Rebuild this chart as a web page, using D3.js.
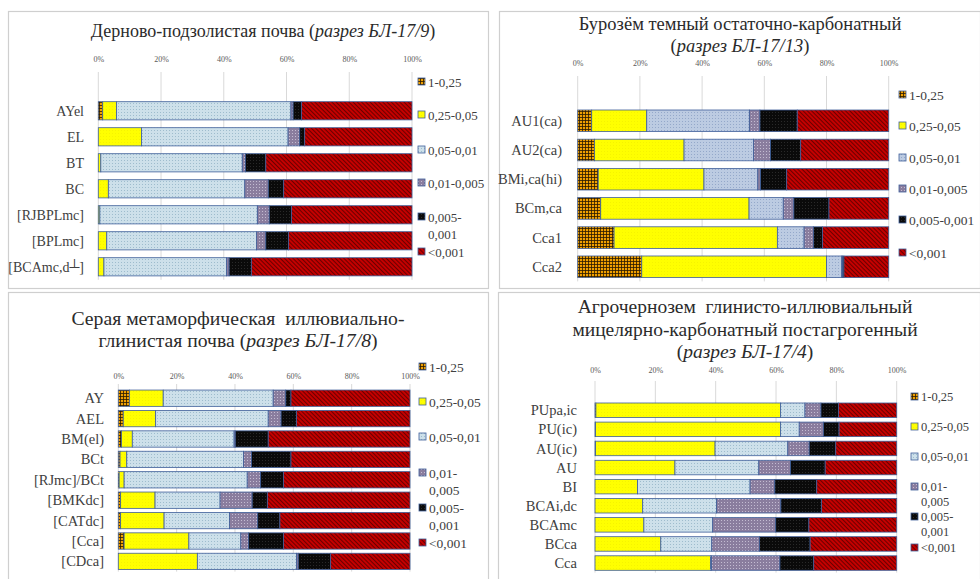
<!DOCTYPE html>
<html><head><meta charset="utf-8">
<script src="https://cdn.jsdelivr.net/npm/d3@7"></script>
<style>body{margin:0;background:#fff}</style>
</head><body><svg id="c" width="980" height="579"></svg>
<script>
// ---------- DATA ----------
const fractions = ["1-0,25","0,25-0,05","0,05-0,01","0,01-0,005","0,005-0,001","<0,001"];
const tickValues = [0,20,40,60,80,100];

const cats1 = ["AYel","EL","BT","BC","[RJBPLmc]","[BPLmc]","[BCAmc,d┴]"];
const vals1 = [
  [1.4, 4.4, 55.6, 0.7, 2.7, 35.2],
  [0.0,13.8, 46.7, 3.7, 1.6, 34.2],
  [0.0, 0.8, 45.1, 1.0, 6.5, 46.6],
  [0.0, 3.2, 43.5, 7.5, 4.9, 40.9],
  [0.0, 0.5, 50.2, 3.8, 7.1, 38.4],
  [0.0, 2.7, 47.7, 3.0, 7.2, 39.4],
  [0.0, 1.8, 39.1, 0.8, 7.1, 51.2]
];
const legend1 = ["1-0,25","0,25-0,05","0,05-0,01","0,01-0,005","0,005-\n0,001","<0,001"];

const cats2 = ["AU1(ca)","AU2(ca)","BMi,ca(hi)","BCm,ca","Cca1","Cca2"];
const vals2 = [
  [ 4.5,17.7,33.0,3.4,12.0,29.4],
  [ 5.4,28.8,22.3,5.5, 9.7,28.3],
  [ 6.6,34.0,17.3,0.9, 8.4,32.8],
  [ 7.4,47.7,11.0,3.4,11.3,19.2],
  [11.7,52.5, 8.6,3.0, 2.9,21.3],
  [20.6,59.4, 4.9,0.3, 0.4,14.4]
];
const legend2 = ["1-0,25","0,25-0,05","0,05-0,01","0,01-0,005","0,005-0,001","<0,001"];

const cats3 = ["AY","AEL","BM(el)","BCt","[RJmc]/BCt","[BMKdc]","[CATdc]","[Cca]","[CDca]"];
const vals3 = [
  [3.8,11.6,37.7, 4.3, 1.8,40.8],
  [1.7,11.1,38.6, 4.4, 5.3,38.9],
  [1.1, 3.7,34.9, 0.4,11.3,48.6],
  [0.6, 2.3,40.0, 2.8,13.5,40.8],
  [0.3, 1.7,42.2, 4.6, 7.8,43.4],
  [0.8,11.8,22.3,11.0, 5.2,48.9],
  [0.8,14.9,22.4, 9.7, 7.6,44.6],
  [2.0,22.2,17.8, 2.7,11.9,43.4],
  [0.0,27.1,34.0, 0.6,11.1,27.2]
];
const legend3 = ["1-0,25","0,25-0,05","0,05-0,01","0,01-\n0,005","0,005-\n0,001","<0,001"];

const cats4 = ["PUpa,ic","PU(ic)","AU(ic)","AU","BI","BCAi,dc","BCAmc","BCca","Cca"];
const vals4 = [
  [0.3,61.2, 8.1, 5.3, 5.8,19.3],
  [0.2,61.3, 6.2, 8.0, 5.2,19.1],
  [0.2,39.6,24.1, 7.1, 8.8,20.2],
  [0.0,26.5,27.8,10.5,11.5,23.7],
  [0.0,14.1,37.3, 8.2,13.9,26.5],
  [0.0,15.8,24.5,21.3,13.5,24.9],
  [0.0,16.2,22.8,20.9,11.0,29.1],
  [0.0,21.8,16.9,15.8,16.8,28.7],
  [0.0,38.3, 0.3,22.7,11.2,27.5]
];
const legend4 = ["1-0,25","0,25-0,05","0,05-0,01","0,01-\n0,005","0,005-\n0,001","<0,001"];

// ---------- LAYOUT ----------
const panels = [
  {frame:[8,11,480,277], cats:cats1, vals:vals1, legend:legend1, blue:"a",
   x0:98.3, x1:412, tickY:59, gridTop:72, y0:97.8, y1:279.8, pad:0.3, labelX:84, labelSize:14,
   title:[[["Дерново-подзолистая почва (",0],["разрез БЛ-17/9",1],[")",0]]], titleX:263, titleY:[37], titleSize:18,
   legX:418, legY:[82,115,150,183,217,252], legSub:17, legSize:13},
  {frame:[499,11,481,277], cats:cats2, vals:vals2, legend:legend2, blue:"b",
   x0:577.7, x1:888.7, tickY:63, gridTop:76, y0:106.2, y1:281.4, pad:0.26, labelX:562, labelSize:14.5,
   title:[[["Бурозём темный остаточно-карбонатный",0]],[["(",0],["разрез БЛ-17/13",1],[")",0]]], titleX:740, titleY:[30,52], titleSize:18.5,
   legX:899, legY:[95,126,158,189,220,253], legSub:17, legSize:13.5},
  {frame:[8,292,480,290], cats:cats3, vals:vals3, legend:legend3, blue:"a",
   x0:118.3, x1:410, tickY:376, gridTop:384, y0:388, y1:571.6, pad:0.2, labelX:104, labelSize:14.5,
   title:[[["Серая метаморфическая  иллювиально-",0]],[["глинистая почва (",0],["разрез БЛ-17/8",1],[")",0]]], titleX:238, titleY:[325,347], titleSize:19.7,
   legX:419, legY:[367,402,437,473,508,543], legSub:17, legSize:13.5},
  {frame:[498,292,482,290], cats:cats4, vals:vals4, legend:legend4, blue:"a",
   x0:595, x1:896.7, tickY:370, gridTop:381, y0:400.7, y1:572.6, pad:0.24, labelX:577, labelSize:14.5,
   title:[[["Агрочернозем  глинисто-иллювиальный",0]],[["мицелярно-карбонатный постагрогенный",0]],[["(",0],["разрез БЛ-17/4",1],[")",0]]], titleX:745, titleY:[313,336,358], titleSize:19.5,
   legX:911, legY:[397,427,457,487,517,548], legSub:15, legSize:12.5}
];

const svg = d3.select("#c");
const FONT = "'Liberation Serif','Times New Roman',serif";

// ---------- PATTERNS ----------
const defs = svg.append("defs");
function pat(id, w, h, bg, draw, tr){
  const p = defs.append("pattern").attr("id",id).attr("patternUnits","userSpaceOnUse")
    .attr("width",w).attr("height",h);
  if(tr) p.attr("patternTransform",tr);
  p.append("rect").attr("width",w).attr("height",h).attr("fill",bg);
  draw(p);
}
pat("f0",3,3,"#f0a000",p=>{
  p.append("rect").attr("x",0).attr("y",0).attr("width",3).attr("height",0.8).attr("fill","#2a1a00");
  p.append("rect").attr("x",0).attr("y",0).attr("width",0.8).attr("height",3).attr("fill","#2a1a00");
});
pat("f1",3,3,"#ffff00",p=>{
  p.append("rect").attr("x",1).attr("y",1).attr("width",0.6).attr("height",0.6).attr("fill","#e8e000");
});
pat("f2a",3,3,"#cde0ea",p=>{
  p.append("rect").attr("x",1).attr("y",1).attr("width",0.9).attr("height",0.9).attr("fill","#93b3c6");
});
pat("f2b",3,3,"#bccbe2",p=>{
  p.append("rect").attr("x",1).attr("y",1).attr("width",0.9).attr("height",0.9).attr("fill","#8aa0c4");
});
pat("f3",3,3,"#8a7d9e",p=>{
  p.append("rect").attr("x",1).attr("y",1).attr("width",1).attr("height",1).attr("fill","#c4bcd2");
});
pat("f4",3,3,"#0a0a0a",p=>{
  p.append("rect").attr("x",1).attr("y",1).attr("width",0.8).attr("height",0.8).attr("fill","#3a3a3a");
});
pat("f5",3,3,"#c40000",p=>{
  p.append("rect").attr("x",0).attr("y",0).attr("width",1).attr("height",3).attr("fill","#6a0000");
},"rotate(-45)");
const fillId = (i,P) => i===2 ? `url(#f2${P.blue})` : `url(#f${i})`;

// ---------- DRAW ----------
panels.forEach(P => {
  const g = svg.append("g");
  g.append("rect").attr("x",P.frame[0]+0.5).attr("y",P.frame[1]+0.5)
    .attr("width",P.frame[2]).attr("height",P.frame[3])
    .attr("fill","#fff").attr("stroke","#cfcfcf").attr("stroke-width",1.2);

  const x = d3.scaleLinear().domain([0,1]).range([P.x0,P.x1]);
  const y = d3.scaleBand().domain(P.cats).range([P.y0,P.y1]).paddingInner(P.pad).paddingOuter(P.pad/2);

  // grid
  g.append("g").selectAll("line").data(tickValues).join("line")
    .attr("x1",d=>x(d/100)).attr("x2",d=>x(d/100))
    .attr("y1",P.gridTop).attr("y2",P.y1)
    .attr("stroke","#d9d9d9").attr("stroke-width",1);

  // ticks
  const ax = g.append("g").attr("transform",`translate(0,${P.tickY+3})`)
    .call(d3.axisTop(x).tickValues(tickValues.map(v=>v/100)).tickFormat(d=>Math.round(d*100)+"%").tickSize(0).tickPadding(0));
  ax.select(".domain").remove();
  ax.selectAll("text").attr("font-family",FONT).attr("font-size",8).attr("fill","#595959");

  // stacked bars
  const rows = P.cats.map((c,i)=>{const o={cat:c}; P.vals[i].forEach((v,k)=>o[k]=v); return o;});
  const stack = d3.stack().keys(d3.range(6)).offset(d3.stackOffsetExpand)(rows);
  g.append("g").selectAll("g").data(stack).join("g")
    .attr("fill",(d,i)=>fillId(i,P))
    .selectAll("rect").data(d=>d.map(s=>({s,cat:s.data.cat}))).join("rect")
    .attr("x",d=>x(d.s[0])).attr("width",d=>Math.max(0,x(d.s[1])-x(d.s[0])))
    .attr("y",d=>y(d.cat)).attr("height",y.bandwidth())
    .attr("stroke","#3f5f9a").attr("stroke-width",0.8);

  // category labels
  g.append("g").selectAll("text").data(P.cats).join("text")
    .attr("x",P.labelX).attr("y",d=>y(d)+y.bandwidth()/2)
    .attr("dy","0.35em").attr("text-anchor","end")
    .attr("font-family",FONT).attr("font-size",P.labelSize).attr("fill","#404040")
    .text(d=>d);

  // title
  P.title.forEach((line,li)=>{
    const t = g.append("text").attr("x",P.titleX).attr("y",P.titleY[li])
      .attr("text-anchor","middle").attr("font-family",FONT)
      .attr("font-size",P.titleSize).attr("fill","#2b2b2b").attr("xml:space","preserve")
      .style("white-space","pre");
    line.forEach(seg=>t.append("tspan").attr("font-style",seg[1]?"italic":"normal").text(seg[0]));
  });

  // legend
  const lg = g.append("g");
  P.legend.forEach((lab,i)=>{
    const cy = P.legY[i];
    lg.append("rect").attr("x",P.legX).attr("y",cy-4).attr("width",7).attr("height",7)
      .attr("fill",fillId(i,P)).attr("stroke","#3f5f9a").attr("stroke-width",0.8);
    const parts = lab.split("\n");
    parts.forEach((pt,j)=>{
      lg.append("text").attr("x",P.legX+10).attr("y",cy+j*P.legSub).attr("dy","0.35em")
        .attr("font-family",FONT).attr("font-size",P.legSize).attr("fill","#404040").text(pt);
    });
  });
});
</script></body></html>
